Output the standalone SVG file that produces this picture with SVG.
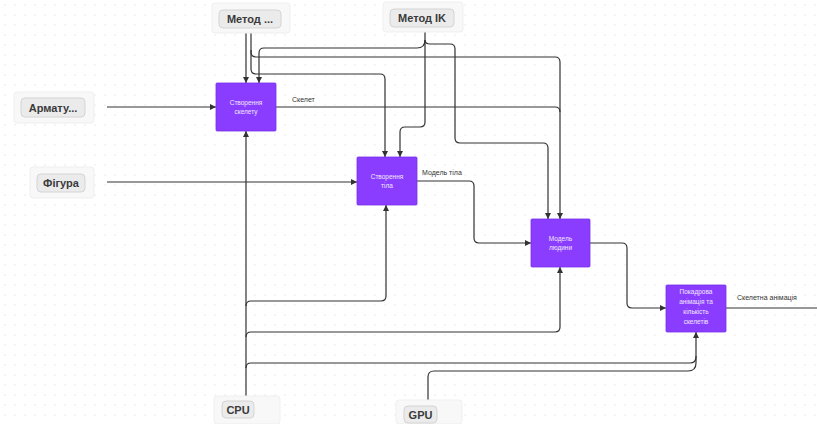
<svg xmlns="http://www.w3.org/2000/svg" width="817" height="424" viewBox="0 0 817 424">
<defs>
<pattern id="dots" width="10" height="10" patternUnits="userSpaceOnUse"><circle cx="5" cy="5" r="0.7" fill="#e2e2e2"/></pattern>
<marker id="arr" viewBox="0 0 6 6" refX="6" refY="3" markerWidth="6" markerHeight="6" markerUnits="userSpaceOnUse" orient="auto"><path d="M0,0 L6,3 L0,6 z" fill="#333"/></marker>
<style>
.pill-o{fill:#f8f8f8;stroke:#efefef;stroke-width:1}
.pill{fill:#ebebeb;stroke:#d4d4d4;stroke-width:1}
.pt{font-family:"Liberation Sans",Arial,sans-serif;font-size:11px;font-weight:bold;fill:#3a3a3a;text-anchor:middle}
.box{fill:#8b3dff;stroke:#7a30ea;stroke-width:0.8}
.bt{font-family:"Liberation Sans",Arial,sans-serif;font-size:6.5px;fill:#f1e8ff;text-anchor:middle}
.c{fill:none;stroke:#333;stroke-width:1.2}
.a{marker-end:url(#arr)}
.lbl{font-family:"Liberation Sans",Arial,sans-serif;font-size:7px;fill:#333}
</style>
</defs>
<rect width="817" height="424" fill="#ffffff"/>
<rect width="817" height="424" fill="url(#dots)"/>

<g id="connectors">
<path class="c a" d="M246 28 V83"/>
<path class="c a" d="M251 28 V52 q0 5 5 5 H555 q5 0 5 5 V219"/>
<path class="c a" d="M251 50 V69 q0 5 5 5 H380 q5 0 5 5 V157"/>
<path class="c a" d="M425 28 V40 q0 8 -8 8 H264 q-5 0 -5 5 V83"/>
<path class="c a" d="M425 40 V122 q0 5 -5 5 H405 q-5 0 -5 5 V157"/>
<path class="c a" d="M425 40 q0 4 5 4 H450 q5 0 5 5 V138 q0 5 5 5 H543 q5 0 5 5 V219"/>
<path class="c" d="M276 107 H555 q5 0 5 5"/>
<path class="c a" d="M107 107 H216"/>
<path class="c a" d="M107 182 H357"/>
<path class="c a" d="M417 181 H469 q5 0 5 5 V238 q0 5 5 5 H531"/>
<path class="c a" d="M590 243 H622 q5 0 5 5 V303 q0 5 5 5 H666"/>
<path class="c" d="M726 308 H817"/>
<path class="c a" d="M246 400 V131"/>
<path class="c a" d="M246 306 q0 -5 5 -5 H381 q5 0 5 -5 V205"/>
<path class="c a" d="M246 337 q0 -5 5 -5 H555 q5 0 5 -5 V267"/>
<path class="c a" d="M246 368 q0 -5 5 -5 H690 q6 0 6 -6 V332"/>
<path class="c" d="M428 406 V377 q0 -6 6 -6 H688 q8 0 8 -8 V356"/>
</g>

<g id="label-skelet"><text class="lbl" x="292" y="102">Скелет</text></g>
<g id="label-model-tila"><text class="lbl" x="422" y="175">Модель тіла</text></g>
<g id="label-anim"><text class="lbl" x="737" y="300">Скелетна анімація</text></g>

<g id="metod1">
<rect class="pill-o" x="212" y="3" width="78" height="30" rx="3"/>
<rect class="pill" x="219" y="10" width="62" height="18" rx="4"/>
<text class="pt" x="250" y="23">Метод ...</text>
</g>
<g id="metod-ik">
<rect class="pill-o" x="383" y="2" width="80" height="30" rx="3"/>
<rect class="pill" x="390" y="9" width="64" height="18" rx="4"/>
<text class="pt" x="422" y="22">Метод IK</text>
</g>
<g id="armatura">
<rect class="pill-o" x="14" y="92" width="80" height="31" rx="3"/>
<rect class="pill" x="21" y="98" width="64" height="19" rx="4"/>
<text class="pt" x="53" y="111.5">Армату...</text>
</g>
<g id="figura">
<rect class="pill-o" x="30" y="167" width="64" height="31" rx="3"/>
<rect class="pill" x="37" y="174" width="48" height="18" rx="4"/>
<text class="pt" x="61" y="187">Фігура</text>
</g>
<g id="cpu">
<rect class="pill-o" x="214" y="396" width="66" height="28" rx="3"/>
<rect class="pill" x="222" y="401" width="32" height="17" rx="4"/>
<text class="pt" x="238" y="413.5">CPU</text>
</g>
<g id="gpu">
<rect class="pill-o" x="396" y="400" width="66" height="24" rx="3"/>
<rect class="pill" x="404" y="406" width="33" height="17" rx="4"/>
<text class="pt" x="420.5" y="418.5">GPU</text>
</g>

<g id="stvorennia-skeletu">
<rect class="box" x="216" y="83" width="60" height="48" rx="1"/>
<text class="bt" x="246" y="105">Створення</text>
<text class="bt" x="246" y="114">скелету</text>
</g>
<g id="stvorennia-tila">
<rect class="box" x="357" y="157" width="60" height="48" rx="1"/>
<text class="bt" x="387" y="179">Створення</text>
<text class="bt" x="387" y="188">тіла</text>
</g>
<g id="model-liudyny">
<rect class="box" x="531" y="219" width="59" height="48" rx="1"/>
<text class="bt" x="560.5" y="241">Модель</text>
<text class="bt" x="560.5" y="250">людини</text>
</g>
<g id="pokadrova">
<rect class="box" x="666" y="285" width="60" height="47" rx="1"/>
<text class="bt" x="696" y="294">Покадрова</text>
<text class="bt" x="696" y="304">анімація та</text>
<text class="bt" x="696" y="314">кількість</text>
<text class="bt" x="696" y="324">скелетів</text>
</g>
</svg>
